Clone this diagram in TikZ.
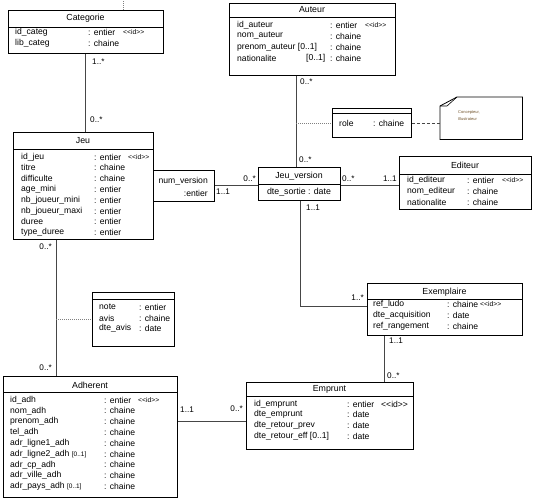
\documentclass[tikz,border=0pt]{standalone}
\usepackage{fontspec}
\setmainfont{Liberation Sans}
\usetikzlibrary{calc}
\definecolor{linecol}{RGB}{70,70,70}
\definecolor{notetext}{RGB}{110,80,40}
\tikzset{
  box/.style={draw=black, line width=0.8pt, inner sep=0pt, anchor=north west},
  conn/.style={draw=linecol, line width=1pt},
  dotline/.style={draw=gray, line width=0.6pt, dash pattern=on 1pt off 1pt},
  dashline/.style={draw=linecol, line width=0.7pt, dash pattern=on 3pt off 2pt},
  txt/.style={inner sep=0pt, anchor=west, font=\fontsize{8.6}{10}\selectfont},
  ttl/.style={inner sep=0pt, anchor=center, font=\fontsize{8.8}{10}\selectfont},
  idtag/.style={inner sep=0pt, anchor=west, font=\fontsize{6.8}{7}\selectfont},
  mult/.style={inner sep=0pt, font=\fontsize{8.2}{10}\selectfont},
  multl/.style={mult, anchor=west},
  multr/.style={mult, anchor=east},
}
\newcommand{\smb}[1]{{\fontsize{6.5}{7}\selectfont #1}}
\newcommand{\idmark}{<\kern0pt<id>\kern0pt>}
\begin{document}
\begin{tikzpicture}[x=1pt,y=-1pt]
\useasboundingbox (0,0) rectangle (535,503);

% ---------- boxes ----------
\node[box, minimum width=155, minimum height=43] (cat) at (8,10) {};
\node[box, minimum width=166, minimum height=72] (aut) at (229,3) {};
\node[box, minimum width=79, minimum height=29] (role) at (332,108) {};
\node[inner sep=0pt, anchor=north west, minimum width=82, minimum height=42] (note) at (440,97) {};
\node[box, minimum width=140, minimum height=107] (jeu) at (13,132) {};
\node[box, minimum width=61, minimum height=31] (qual) at (153,170) {};
\node[box, minimum width=82, minimum height=33] (jv) at (258,167) {};
\node[box, minimum width=132, minimum height=53] (edi) at (399,156) {};
\node[box, minimum width=82, minimum height=54] (avis) at (92,292) {};
\node[box, minimum width=155, minimum height=52] (exe) at (367,283) {};
\node[box, minimum width=174, minimum height=121] (adh) at (3,376) {};
\node[box, minimum width=167, minimum height=67] (emp) at (246,382) {};

% header separators
\draw[line width=0.8pt] ([yshift=-17pt]cat.north west) -- ([yshift=-17pt]cat.north east);
\draw[line width=0.8pt] ([yshift=-14pt]aut.north west) -- ([yshift=-14pt]aut.north east);
\draw[line width=0.8pt] ([yshift=-5pt]role.north west) -- ([yshift=-5pt]role.north east);
\draw[line width=0.8pt] ([yshift=-17pt]jeu.north west) -- ([yshift=-17pt]jeu.north east);
\draw[line width=0.8pt] ([yshift=-17pt]jv.north west) -- ([yshift=-17pt]jv.north east);
\draw[line width=0.8pt] ([yshift=-18pt]edi.north west) -- ([yshift=-18pt]edi.north east);
\draw[line width=0.8pt] ([yshift=-7pt]avis.north west) -- ([yshift=-7pt]avis.north east);
\draw[line width=0.8pt] ([yshift=-16pt]exe.north west) -- ([yshift=-16pt]exe.north east);
\draw[line width=0.8pt] ([yshift=-16pt]adh.north west) -- ([yshift=-16pt]adh.north east);
\draw[line width=0.8pt] ([yshift=-14pt]emp.north west) -- ([yshift=-14pt]emp.north east);

% note with folded corner
\draw[line width=0.8pt] (note.south west) -- ([yshift=-9pt]note.north west) -- ([xshift=17pt]note.north west) -- (note.north east) -- (note.south east) -- cycle;
\draw[line width=0.6pt] ([yshift=-9pt]note.north west) -- ([xshift=7pt,yshift=-9pt]note.north west) -- ([xshift=17pt]note.north west);
\node[inner sep=0pt, anchor=west, text=notetext, font=\fontsize{4}{5}\selectfont] (n1) at (458,113) {Concepteur,};
\node[inner sep=0pt, anchor=west, text=notetext, font=\fontsize{4}{5}\selectfont] (n2) at (458,119) {Illustrateur};

% ---------- Categorie ----------
\node[ttl] (catT) at (85.5,18) {Categorie};
\node[txt] (c1) at (15,32) {id\_categ};
\node[txt] (c2) at (15,43) {lib\_categ};
\node[txt] (c1t) at (88,32) {: entier};
\node[idtag] (c1i) at (123,32) {\idmark};
\node[txt] (c2t) at (88,43) {: chaine};

% ---------- Auteur ----------
\node[ttl] (autT) at (312,10) {Auteur};
\node[txt] (a1) at (237,25) {id\_auteur};
\node[txt] (a2) at (237,36) {nom\_auteur};
\node[txt] (a3) at (237,47) {prenom\_auteur [0..1]};
\node[txt] (a4) at (237,58) {nationalite};
\node[txt] (a4b) at (306,58) {[0..1]};
\node[txt] (a1t) at (330,25) {: entier};
\node[idtag] (a1i) at (365,25) {\idmark};
\node[txt] (a2t) at (330,36) {: chaine};
\node[txt] (a3t) at (330,47) {: chaine};
\node[txt] (a4t) at (330,58) {: chaine};

% ---------- role ----------
\node[txt] (r1) at (339,123) {role};
\node[txt] (r1t) at (373,123) {: chaine};

% ---------- Jeu ----------
\node[ttl] (jeuT) at (83,141) {Jeu};
\foreach \n/\t [count=\i from 0] in {id\_jeu/: entier, titre/: chaine, difficulte/: chaine, age\_mini/: entier, nb\_joueur\_mini/: entier, nb\_joueur\_maxi/: entier, duree/: entier, type\_duree/: entier}{
  \node[txt] (j\i) at (21,157+10.8*\i) {\n};
  \node[txt] (jt\i) at (94,157+10.8*\i) {\t};
}
\node[idtag] (j0i) at (128,157) {\idmark};

% ---------- qualifier ----------
\node[txt, anchor=east] (q1) at (208,181.5) {num\_version};
\node[txt, anchor=east] (q2) at (208,193.5) {:entier};

% ---------- Jeu_version ----------
\node[ttl] (jvT) at (299,176) {Jeu\_version};
\node[ttl] (jv1) at (299,192) {dte\_sortie : date};

% ---------- Editeur ----------
\node[ttl] (ediT) at (465,165) {Editeur};
\node[txt] (e1) at (407,180) {id\_editeur};
\node[txt] (e2) at (407,191) {nom\_editeur};
\node[txt] (e3) at (407,202) {nationalite};
\node[txt] (e1t) at (467,180) {: entier};
\node[idtag] (e1i) at (502,180) {\idmark};
\node[txt] (e2t) at (467,191) {: chaine};
\node[txt] (e3t) at (467,202) {: chaine};

% ---------- avis ----------
\node[txt] (v1) at (99,307) {note};
\node[txt] (v2) at (99,318) {avis};
\node[txt] (v3) at (99,328) {dte\_avis};
\node[txt] (v1t) at (139,307) {: entier};
\node[txt] (v2t) at (139,318) {: chaine};
\node[txt] (v3t) at (139,328) {: date};

% ---------- Exemplaire ----------
\node[ttl] (exeT) at (444.5,292) {Exemplaire};
\node[txt] (x1) at (373,304) {ref\_ludo};
\node[txt] (x2) at (373,315) {dte\_acquisition};
\node[txt] (x3) at (373,326) {ref\_rangement};
\node[txt] (x1t) at (447,304) {: chaine};
\node[idtag] (x1i) at (480,304) {\idmark};
\node[txt] (x2t) at (447,315) {: date};
\node[txt] (x3t) at (447,326) {: chaine};

% ---------- Adherent ----------
\node[ttl] (adhT) at (90,385) {Adherent};
\node[txt] (h0) at (10,400) {id\_adh};
\node[txt] (h1) at (10,410.8) {nom\_adh};
\node[txt] (h2) at (10,421.6) {prenom\_adh};
\node[txt] (h3) at (10,432.4) {tel\_adh};
\node[txt] (h4) at (10,443.2) {adr\_ligne1\_adh};
\node[txt] (h5) at (10,454) {adr\_ligne2\_adh \smb{[0..1]}};
\node[txt] (h6) at (10,464.8) {adr\_cp\_adh};
\node[txt] (h7) at (10,475.6) {adr\_ville\_adh};
\node[txt] (h8) at (10,486.4) {adr\_pays\_adh \smb{[0..1]}};
\node[txt] (ht0) at (104,400) {: entier};
\node[idtag] (h0i) at (138,400) {\idmark};
\foreach \i in {1,...,8}{
  \node[txt] (ht\i) at (104,400+10.8*\i) {: chaine};
}

% ---------- Emprunt ----------
\node[ttl] (empT) at (329.5,389) {Emprunt};
\node[txt] (m1) at (254,404) {id\_emprunt};
\node[txt] (m2) at (254,414.7) {dte\_emprunt};
\node[txt] (m3) at (254,425.3) {dte\_retour\_prev};
\node[txt] (m4) at (254,436) {dte\_retour\_eff [0..1]};
\node[txt] (m1t) at (347,404) {: entier};
\node[txt] (m1i) at (381,404) {\idmark};
\node[txt] (m2t) at (347,414.7) {: date};
\node[txt] (m3t) at (347,425.3) {: date};
\node[txt] (m4t) at (347,436) {: date};

% ---------- connectors ----------
\draw[dotline] ([xshift=37.5pt]cat.north) -- ([xshift=37.5pt,yshift=10pt]cat.north);
% Categorie - Jeu
\draw[conn] ([xshift=-0.5pt]cat.south) -- ([xshift=-0.5pt]cat.south |- jeu.north);
\node[multl] (m_c1) at (92,62) {1..*};
\node[multl] (m_c2) at (90,120) {0..*};
% Auteur - Jeu_version
\coordinate (jvtop) at ([xshift=-3pt]jv.north);
\draw[conn] (jvtop) -- (jvtop |- aut.south);
\node[multl] (m_a1) at (300,82) {0..*};
\node[multl] (m_a2) at (299,160) {0..*};
\coordinate (rolej) at (jvtop |- role.west);
\draw[dotline] (rolej) -- (role.west);
\draw[dashline] (role.east) -- (role.east -| note.west);
% qualifier - Jeu_version
\draw[conn] (qual.east) -- (qual.east -| jv.west);
\node[multl] (m_q1) at (216,192) {1..1};
\node[multr] (m_q2) at (256,179) {0..*};
% Jeu_version - Editeur
\draw[conn] ([yshift=-2pt]jv.east) -- ([yshift=-2pt]jv.east -| edi.west);
\node[multl] (m_e1) at (342,179) {0..*};
\node[multr] (m_e2) at (397,179) {1..1};
% Jeu_version - Exemplaire
\draw[conn] ([xshift=1.5pt]jv.south) |- ([yshift=3pt]exe.west);
\node[multl] (m_x1) at (306,208) {1..1};
\node[multr] (m_x2) at (364,298) {1..*};
% Jeu - Adherent
\coordinate (jadh) at ([xshift=43pt]jeu.south west);
\draw[conn] (jadh) -- (jadh |- adh.north);
\node[multr] (m_h1) at (52,247) {0..*};
\node[multr] (m_h2) at (52,368) {0..*};
\draw[dotline] (jadh |- avis.west) -- (avis.west);
% Adherent - Emprunt
\draw[conn] ([yshift=-5.5pt]emp.west) -- ([yshift=-5.5pt]emp.west -| adh.east);
\node[multl] (m_p1) at (180,410) {1..1};
\node[multr] (m_p2) at (243,409) {0..*};
% Exemplaire - Emprunt
\coordinate (xemp) at ([xshift=17pt]exe.south west);
\draw[conn] (xemp) -- (xemp |- emp.north);
\node[multl] (m_y1) at (389,341) {1..1};
\node[multl] (m_y2) at (387,376) {0..*};
\end{tikzpicture}
\end{document}
